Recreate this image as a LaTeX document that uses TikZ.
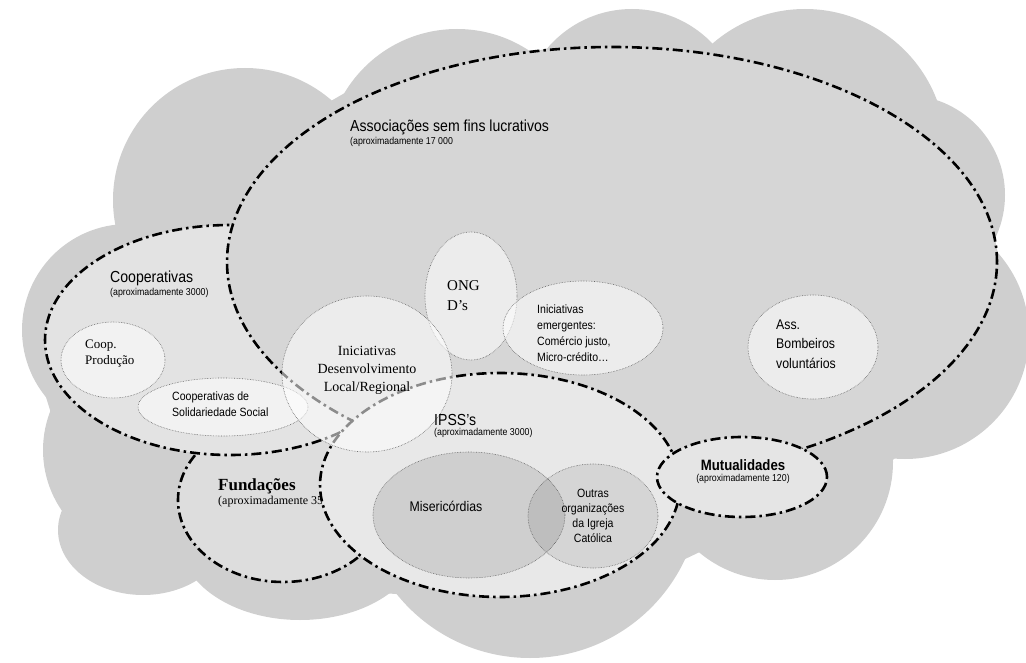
\documentclass[tikz,border=0pt]{standalone}
\usepackage{fontspec}
\newfontfamily\narrowsf[FakeStretch=0.88]{Liberation Sans}
\newfontfamily\timesrm{Liberation Serif}
\usepackage{xcolor}
\usetikzlibrary{positioning}
\definecolor{nuvem}{gray}{0.81}
\definecolor{assocfill}{gray}{0.84}
\definecolor{coopfill}{gray}{0.89}
\definecolor{fundfill}{gray}{0.865}
\definecolor{ipssfill}{gray}{0.91}
\definecolor{mutfill}{gray}{0.90}
\definecolor{miserfill}{gray}{0.81}
\tikzset{
  tracoponto/.style={line width=2.6pt, dash pattern=on 10pt off 4pt on 2.5pt off 4pt},
  pontilhado/.style={densely dotted, line width=0.6pt, draw=black!60},
  translucido/.style={pontilhado, fill=white, fill opacity=0.55},
  titulo/.style={font=\narrowsf\fontsize{16}{18}\selectfont, inner sep=0pt, anchor=west},
  aprox/.style={font=\narrowsf\fontsize{10}{12}\selectfont, inner sep=0pt},
  texto/.style={font=\narrowsf\fontsize{12}{16}\selectfont, inner sep=0pt, align=left},
  serifa/.style={font=\timesrm\fontsize{14}{18}\selectfont, inner sep=0pt, align=center}
}
\begin{document}
\begin{tikzpicture}[x=1pt,y=-1pt]
\useasboundingbox (0,0) rectangle (1026,663);
% nuvem de fundo
\begin{scope}[fill=nuvem]
\fill (115,225) -- (350,90) -- (550,48) -- (713,46) -- (905,95) -- (995,240) -- (1015,330)
  -- (893,460) -- (683,560) -- (410,595) -- (200,580) -- (62,510) -- (50,410) -- (25,330) -- cycle;
\fill (245,200) circle (132pt);
\fill (128,330) circle (106pt);
\fill (150,450) circle (107pt);
\fill (143,530) ellipse [x radius=85pt, y radius=65pt];
\fill (300,540) ellipse [x radius=120pt, y radius=80pt];
\fill (530,487) circle (171pt);
\fill (775,462) circle (118pt);
\fill (905,335) circle (124pt);
\fill (905,195) circle (100pt);
\fill (805,150) circle (141pt);
\fill (632,120) circle (111pt);
\fill (457,160) circle (131pt);
\end{scope}
% Fundacoes (por baixo das IPSS)
\filldraw[tracoponto, fill=fundfill] (283,500) ellipse [x radius=105pt, y radius=82pt];
\node[font=\timesrm\bfseries\fontsize{17}{20}\selectfont, inner sep=0pt, anchor=west] (fundT) at (218,486) {Fundações};
\node[font=\timesrm\fontsize{12}{14}\selectfont, inner sep=0pt, below=2pt of fundT.south west, anchor=north west] (fundN) {(aproximadamente 350)};
% Cooperativas
\filldraw[tracoponto, fill=coopfill] (230,340) ellipse [x radius=185pt, y radius=115pt];
% Associacoes
\filldraw[tracoponto, fill=assocfill] (612,262) ellipse [x radius=385pt, y radius=215pt];
% IPSS
\filldraw[tracoponto, fill=ipssfill] (500,485) ellipse [x radius=180pt, y radius=112pt];
% Mutualidades
\filldraw[tracoponto, fill=mutfill] (742,477) ellipse [x radius=85pt, y radius=40pt];
% dentro das IPSS
\filldraw[pontilhado, fill=miserfill] (469,515) ellipse [x radius=96pt, y radius=63pt];
\filldraw[pontilhado, fill=black, fill opacity=0.08] (593,516) ellipse [x radius=65pt, y radius=52pt];
% elipses pequenas
\filldraw[translucido] (113,360) ellipse [x radius=52pt, y radius=38pt];
\filldraw[translucido] (223,407) ellipse [x radius=85pt, y radius=29pt];
\filldraw[translucido] (471,296) ellipse [x radius=46pt, y radius=64pt];
\filldraw[translucido] (583,328) ellipse [x radius=80pt, y radius=47pt];
\filldraw[translucido] (813,347) ellipse [x radius=65pt, y radius=52pt];
\filldraw[translucido] (367,374) ellipse [x radius=85pt, y radius=78pt];
% titulos
\node[titulo] (assocT) at (350,127) {Associações sem fins lucrativos};
\node[aprox, below=2pt of assocT.south west, anchor=north west] (assocN) {(aproximadamente 17 000};
\node[titulo] (coopT) at (110,278) {Cooperativas};
\node[aprox, below=2pt of coopT.south west, anchor=north west] (coopN) {(aproximadamente 3000)};
\node[titulo] (ipssT) at (434,420) {IPSS’s};
\node[aprox, below=2pt of ipssT.south west, anchor=north west] (ipssN) {(aproximadamente 3000)};
\node[titulo, anchor=center, font=\narrowsf\bfseries\fontsize{15}{18}\selectfont] (mutT) at (743,465) {Mutualidades};
\node[aprox, below=3pt of mutT] (mutN) {(aproximadamente 120)};
% textos
\node[serifa] (iniDL) at (367,370) {Iniciativas\\Desenvolvimento\\Local/Regional};
\node[serifa, font=\timesrm\fontsize{15}{20}\selectfont, align=left, anchor=west] (ong) at (447,296) {ONG\\D’s};
\node[texto, anchor=west] (emerg) at (537,333) {Iniciativas\\emergentes:\\Comércio justo,\\Micro-crédito…};
\node[texto, font=\narrowsf\fontsize{14}{19.5}\selectfont, anchor=west] (bomb) at (776,344) {Ass.\\Bombeiros\\voluntários};
\node[serifa, font=\timesrm\fontsize{13}{16}\selectfont, align=left, anchor=west] (coopP) at (85,354) {Coop.\\Produção};
\node[texto, anchor=west] (coopS) at (172,404) {Cooperativas de\\Solidariedade Social};
\node[texto, font=\narrowsf\fontsize{14}{16}\selectfont] (miser) at (446,506) {Misericórdias};
\node[texto, align=center, font=\narrowsf\fontsize{12}{15}\selectfont] (outras) at (593,516) {Outras\\organizações\\da Igreja\\Católica};
\end{tikzpicture}
\end{document}
